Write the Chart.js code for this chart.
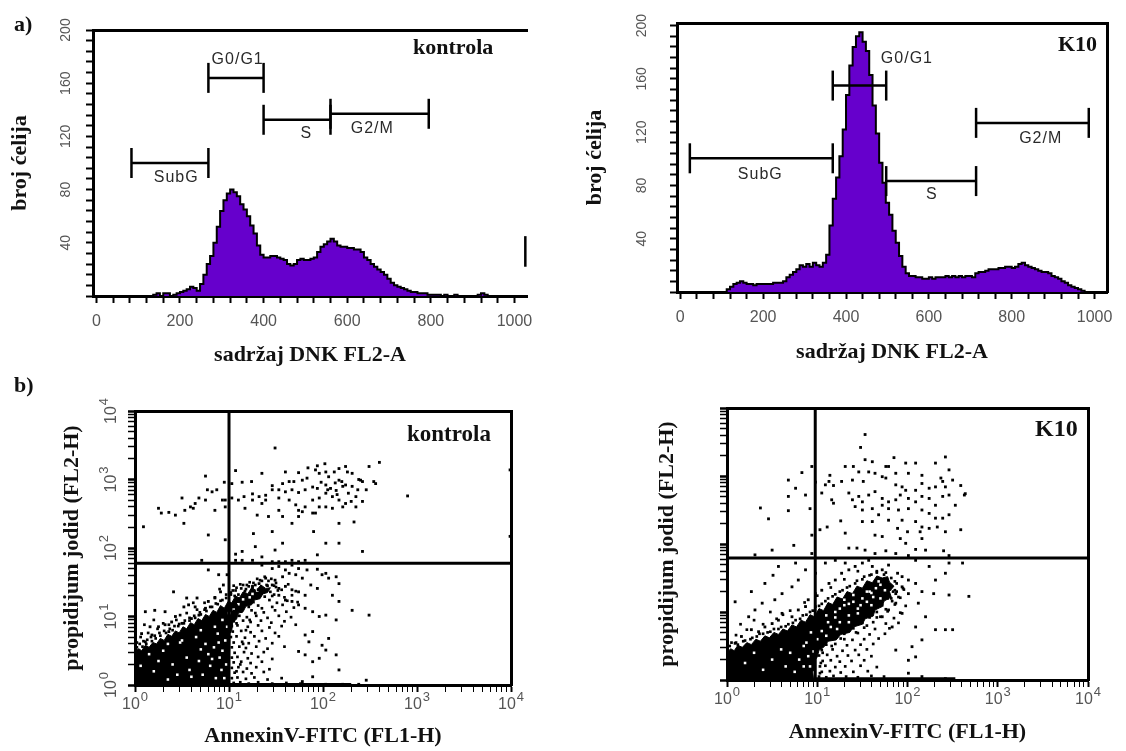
<!DOCTYPE html>
<html lang="sr">
<head>
<meta charset="utf-8">
<title>Ciklus ćelija i apoptoza – kontrola i K10</title>
<script src="https://cdn.jsdelivr.net/npm/chart.js@4.4.1/dist/chart.umd.min.js"></script>
<style>
  html, body { margin: 0; padding: 0; background: #fff; }
  #page { position: relative; width: 1126px; height: 751px; overflow: hidden; background: #fff; }
  #page canvas { position: absolute; }
  .lbl { position: absolute; font-family: 'Liberation Serif', 'Times New Roman', serif; font-weight: bold; color: #111; white-space: nowrap; line-height: 1; }
</style>
</head>
<body>
<div id="page">
  <canvas id="histKon" width="560" height="370" style="left:0;top:0"></canvas>
  <canvas id="histK10" width="566" height="370" style="left:560px;top:0"></canvas>
  <canvas id="dotKon" width="560" height="381" style="left:0;top:370px"></canvas>
  <canvas id="dotK10" width="566" height="381" style="left:560px;top:370px"></canvas>
  <div class="lbl" style="left:14px;top:13px;font-size:22px">a)</div>
  <div class="lbl" style="left:14px;top:374px;font-size:22px">b)</div>
  <div class="lbl" style="left:413px;top:36px;font-size:22px">kontrola</div>
  <div class="lbl" style="left:1058px;top:33px;font-size:22px">K10</div>
  <div class="lbl" style="left:407px;top:422px;font-size:23px">kontrola</div>
  <div class="lbl" style="left:1035px;top:416px;font-size:24px">K10</div>
</div>
<script>
// --- DNA histograms: counts per 8-channel bin of FL2-A (0..1023) ---
const histBinStart = [];
for (let c = 0; c < 1024; c += 8) histBinStart.push(c);

const konCounts = [
  0, 0, 0, 0, 0, 0, 0, 0, 0, 0, 0, 0, 0, 0, 0, 0,
  0, 1, 2, 0, 2, 2, 0, 1, 2, 3, 4, 5, 7, 6, 4, 9,
  16, 24, 30, 40, 52, 64, 72, 77, 80, 78, 75, 69, 65, 60, 53, 47,
  38, 31, 29, 29, 30, 30, 29, 28, 27, 24, 23, 24, 27, 28, 27, 27,
  28, 29, 33, 37, 39, 41, 43, 41, 38, 37, 37, 36, 36, 35, 35, 33,
  29, 27, 24, 22, 20, 18, 16, 13, 10, 8, 7, 6, 5, 4, 3, 3,
  2, 2, 2, 1, 1, 1, 1, 0, 1, 0, 0, 1, 0, 0, 0, 0,
  0, 0, 1, 2, 1, 0, 0, 0, 0, 0, 0, 0, 0, 0, 0, 0
];
// off-scale events piled on the last channel of the control (count span drawn as a line)
const konLastChannel = [1026, 22, 45];

const k10Counts = [
  0, 0, 0, 0, 0, 0, 0, 0, 0, 0, 0, 0, 0, 0, 2, 4,
  6, 7, 8, 7, 6, 6, 5, 6, 6, 6, 6, 6, 7, 7, 7, 8,
  11, 13, 15, 17, 20, 19, 21, 19, 22, 20, 19, 22, 28, 50, 70, 86,
  102, 122, 148, 170, 184, 192, 195, 188, 181, 163, 140, 119, 97, 82, 67, 58,
  46, 37, 27, 19, 14, 12, 12, 11, 11, 10, 10, 11, 10, 11, 11, 11,
  12, 11, 12, 11, 12, 11, 12, 12, 11, 14, 15, 15, 16, 17, 17, 17,
  18, 18, 19, 19, 18, 19, 21, 22, 20, 19, 18, 17, 16, 15, 15, 14,
  12, 11, 10, 8, 7, 5, 4, 3, 2, 1, 0, 0, 0, 0, 0, 0
];

const histXLabels = [0, 200, 400, 600, 800, 1000];
const histYLabels = [40, 80, 120, 160, 200];

// cell-cycle gates (channel ranges, drawn at a count level)
const gateNames = ['SubG', 'G0/G1', 'S', 'G2/M'];
const konGateFrom = [84, 268, 400, 560];
const konGateTo = [268, 400, 560, 795];
const konGateLevel = [100, 164, 132.5, 137];
const konGateTextX = [191, 338, 502, 660];
const konGateTextY = [89, 178, 122, 126];
const k10GateFrom = [23, 368, 497, 714];
const k10GateTo = [368, 497, 714, 986];
const k10GateLevel = [100.4, 155, 83.3, 127];
const k10GateTextX = [193, 547, 607, 870];
const k10GateTextY = [88, 175, 73, 115];

// --- Annexin V / PI dot plots, events as [log10 FL1-H, log10 FL2-H] ---
const decadeValues = [1, 10, 100, 1000, 10000];
const decadeExp = ['0', '1', '2', '3', '4'];

// densest part of each cloud (outline), holes inside it, and single events
const konCore = [[0,0],[0,0.48],[0.04,0.53],[0.07,0.50],[0.11,0.58],[0.15,0.55],[0.19,0.62],[0.23,0.60],[0.27,0.68],[0.31,0.65],[0.35,0.74],[0.39,0.71],[0.43,0.79],[0.47,0.76],[0.51,0.85],[0.55,0.82],[0.59,0.91],[0.63,0.88],[0.67,0.97],[0.71,0.94],[0.75,1.03],[0.79,1.00],[0.83,1.09],[0.87,1.06],[0.91,1.16],[0.95,1.12],[0.99,1.22],[1.03,1.20],[1.07,1.30],[1.11,1.27],[1.15,1.36],[1.20,1.33],[1.24,1.42],[1.29,1.38],[1.34,1.46],[1.39,1.41],[1.44,1.42],[1.41,1.35],[1.36,1.33],[1.33,1.26],[1.27,1.24],[1.24,1.17],[1.18,1.15],[1.15,1.07],[1.10,1.05],[1.08,0.96],[1.04,0.92],[1.03,0.80],[1.01,0.75],[1.00,0.50],[1.00,0],[0,0]];

const konHoles = [[0.72,0.15],[0.80,0.28],[0.86,0.10],[0.90,0.40],[0.78,0.45],[0.68,0.35],[0.60,0.12],[0.84,0.55],[0.92,0.22],[0.55,0.40],[0.40,0.30],[0.30,0.50],[0.20,0.20],[0.06,0.28],[0.48,0.62],[0.65,0.70],[0.88,0.75],[0.93,0.95],[0.75,0.60],[0.58,0.22],[0.82,0.38],[0.70,0.52],[0.89,0.62],[1.00,1.05],[1.10,1.18],[1.22,1.28],[0.95,0.10],[0.97,0.30],[0.93,0.50],[0.96,0.65],[0.85,0.85],[0.70,0.80],[0.50,0.65],[0.35,0.60],[0.15,0.45],[0.25,0.35],[0.45,0.15],[0.35,0.08],[1.05,1.10],[1.15,1.25],[1.25,1.33],[1.30,1.38],[0.98,0.85]];

const konUpper = [[1.49,3.46],[2.60,3.25],[2.02,3.23],[1.94,3.20],[1.84,3.17],[1.74,3.10],[1.60,3.11],[1.35,3.09],[1.07,3.13],[0.75,3.05],[0.95,2.96],[1.14,2.96],[1.24,2.97],[1.46,2.91],[1.57,2.94],[1.64,2.97],[1.69,2.97],[1.78,2.99],[1.83,3.02],[1.92,3.14],[1.96,3.09],[2.03,3.11],[2.06,3.04],[2.12,3.11],[2.17,3.16],[2.24,3.19],[2.26,3.11],[2.31,3.09],[2.38,3.00],[2.42,2.97],[2.49,3.19],[2.54,2.97],[2.17,2.99],[2.21,2.90],[2.24,2.92],[2.31,2.90],[2.37,2.85],[2.46,2.85],[2.03,2.92],[2.08,2.87],[2.14,2.84],[1.89,2.89],[1.94,2.87],[1.81,2.85],[1.74,2.81],[1.67,2.85],[1.60,2.82],[1.53,2.85],[1.46,2.85],[1.39,2.77],[1.32,2.75],[1.25,2.79],[1.16,2.75],[1.10,2.70],[1.03,2.73],[0.96,2.70],[0.87,2.85],[0.82,2.82],[0.77,2.85],[0.68,2.73],[0.64,2.65],[0.59,2.60],[0.53,2.55],[0.50,2.73],[0.43,2.48],[0.36,2.52],[0.28,2.51],[0.25,2.58],[0.09,2.31],[0.52,2.36],[0.78,2.19],[0.96,2.12],[1.07,1.91],[1.26,2.21],[1.28,2.02],[1.35,1.87],[1.14,1.95],[1.46,2.24],[1.57,2.07],[1.49,1.97],[1.67,2.36],[1.74,2.55],[1.81,2.60],[1.89,2.70],[1.96,2.73],[2.03,2.80],[2.10,2.75],[2.17,2.70],[2.24,2.65],[2.30,2.68],[2.35,2.75],[2.42,2.68],[2.35,2.60],[2.21,2.60],[2.10,2.58],[2.03,2.60],[1.96,2.60],[1.89,2.51],[1.78,2.53],[1.71,2.63],[1.64,2.70],[1.53,2.73],[1.39,2.70],[1.35,2.65],[1.25,2.70],[1.17,2.58],[1.42,2.46],[1.57,2.46],[1.74,2.46],[1.92,2.51],[2.17,2.36],[2.33,2.38],[1.90,2.24],[2.03,2.07],[2.17,2.07],[2.42,1.95],[1.94,1.90],[1.81,1.82],[1.74,1.80],[1.67,1.82],[1.60,1.80],[1.53,1.80],[1.46,1.80],[1.25,1.82],[1.14,1.82],[1.07,1.82],[0.71,1.82],[0.96,2.60],[0.93,2.70],[1.03,2.94],[1.53,2.55],[1.30,2.48],[2.90,2.76],[2.56,2.94],[2.40,2.99],[0.75,2.70],[0.85,2.55],[0.62,2.58],[3.99,3.14],[3.99,2.17],[2.13,2.95],[2.20,2.97],[2.05,2.85],[2.27,2.80],[2.15,2.78],[1.98,2.96]];

const konLower = [[0.11,0.63],[0.18,0.73],[0.25,0.85],[0.32,0.88],[0.39,0.92],[0.43,1.00],[0.52,1.14],[0.57,1.17],[0.64,1.14],[0.68,1.02],[0.75,1.12],[0.78,1.22],[0.85,1.27],[0.91,1.36],[0.94,1.46],[0.98,1.61],[0.78,1.68],[0.89,1.61],[0.41,1.36],[0.11,1.07],[0.21,1.09],[0.32,1.07],[0.55,1.27],[0.66,1.27],[0.50,0.90],[0.60,0.97],[0.36,0.78],[0.16,0.85],[0.07,0.75],[1.35,1.75],[1.46,1.70],[1.53,1.73],[1.60,1.68],[1.67,1.75],[1.74,1.70],[1.83,1.68],[1.94,1.69],[1.99,1.61],[2.06,1.56],[2.03,1.63],[2.14,1.58],[2.17,1.48],[1.57,1.58],[1.64,1.63],[1.71,1.61],[1.78,1.56],[1.49,1.53],[1.39,1.56],[1.32,1.48],[1.25,1.44],[1.46,1.46],[1.53,1.41],[1.60,1.44],[1.67,1.39],[1.74,1.36],[1.81,1.31],[1.53,1.31],[1.60,1.24],[1.67,1.22],[1.74,1.17],[1.81,1.12],[1.89,1.07],[1.96,1.00],[2.03,1.02],[2.14,0.95],[2.31,1.09],[2.49,1.02],[2.17,1.22],[2.10,1.31],[1.94,1.41],[1.87,1.46],[1.81,0.73],[1.89,0.78],[1.74,0.49],[1.81,0.44],[1.89,0.34],[1.96,0.39],[2.03,0.51],[2.14,0.44],[1.78,0.05],[1.89,0.12],[2.17,0.22],[2.46,0.07],[1.99,0.58],[2.06,0.68],[1.85,0.63],[2.03,0.01],[2.21,0.01],[2.38,0.01]];

const konMid = [[1.05,1.45],[1.12,1.47],[1.21,1.44],[1.41,1.45],[1.50,1.43],[1.63,1.47],[1.04,1.38],[1.17,1.37],[1.31,1.39],[1.44,1.36],[1.56,1.39],[1.71,1.37],[1.06,1.30],[1.15,1.31],[1.38,1.29],[1.48,1.32],[1.59,1.28],[1.67,1.31],[1.10,1.22],[1.19,1.23],[1.26,1.21],[1.43,1.24],[1.51,1.20],[1.62,1.23],[1.73,1.21],[1.03,1.15],[1.08,1.16],[1.21,1.14],[1.31,1.16],[1.46,1.14],[1.57,1.17],[1.69,1.13],[1.05,1.08],[1.13,1.07],[1.24,1.09],[1.37,1.06],[1.49,1.09],[1.61,1.07],[1.02,1.00],[1.11,1.01],[1.19,0.99],[1.29,1.01],[1.41,0.98],[1.53,1.01],[1.66,0.99],[1.05,0.93],[1.15,0.94],[1.23,0.92],[1.34,0.94],[1.45,0.91],[1.59,0.93],[1.03,0.86],[1.09,0.87],[1.20,0.85],[1.31,0.87],[1.43,0.84],[1.56,0.86],[1.71,0.88],[1.04,0.78],[1.13,0.79],[1.23,0.77],[1.35,0.79],[1.49,0.76],[1.02,0.70],[1.08,0.71],[1.17,0.69],[1.27,0.71],[1.39,0.68],[1.53,0.71],[1.05,0.62],[1.14,0.63],[1.21,0.61],[1.32,0.64],[1.46,0.61],[1.03,0.55],[1.11,0.56],[1.18,0.54],[1.29,0.56],[1.41,0.53],[1.59,0.56],[1.06,0.47],[1.16,0.48],[1.24,0.46],[1.37,0.48],[1.03,0.40],[1.09,0.41],[1.20,0.39],[1.31,0.41],[1.46,0.38],[1.05,0.33],[1.13,0.34],[1.23,0.32],[1.35,0.34],[1.03,0.25],[1.10,0.26],[1.19,0.24],[1.29,0.26],[1.43,0.23],[1.06,0.18],[1.15,0.19],[1.24,0.17],[1.37,0.19],[1.03,0.10],[1.09,0.11],[1.18,0.09],[1.27,0.11],[1.41,0.08],[1.56,0.10],[1.05,0.03],[1.12,0.04],[1.21,0.02],[1.31,0.04],[1.46,0.02],[1.61,0.03],[1.76,0.02],[0.03,0.50],[0.08,0.56],[0.02,0.62],[0.12,0.60],[0.18,0.64],[0.06,0.70],[0.22,0.68],[0.27,0.72],[0.14,0.76],[0.33,0.76],[0.40,0.80],[0.24,0.82],[0.46,0.86],[0.36,0.88],[0.52,0.90],[0.58,0.94],[0.44,0.95],[0.64,0.98],[0.70,1.03],[0.55,1.05],[0.76,1.08],[0.66,1.10],[0.82,1.14],[0.88,1.18],[0.74,1.20],[0.93,1.24],[0.85,1.28],[0.97,1.32],[0.90,1.40],[0.62,1.20],[0.48,1.02],[0.30,0.90],[0.20,0.95],[0.10,0.88],[1.02,1.35],[1.08,1.42],[1.15,1.46],[1.22,1.50],[1.28,1.46],[1.35,1.52],[1.40,1.46],[1.45,1.55],[1.50,1.49],[1.38,1.58],[1.30,1.55],[1.18,1.40],[1.10,1.32],[1.25,1.42],[0.02,0.55],[0.05,0.60],[0.09,0.64],[0.13,0.66],[0.17,0.70],[0.21,0.72],[0.26,0.76],[0.31,0.79],[0.37,0.82],[0.42,0.86],[0.47,0.89],[0.53,0.94],[0.58,0.98],[0.63,1.01],[0.69,1.06],[0.74,1.10],[0.80,1.14],[0.86,1.19],[0.91,1.23],[0.97,1.27],[1.02,1.32],[1.07,1.38],[1.13,1.41],[1.19,1.46],[1.26,1.49],[1.33,1.53],[1.42,1.52],[1.48,1.45],[1.52,1.38],[1.46,1.30],[1.08,0.20],[1.12,0.30],[1.15,0.60],[1.18,0.80],[1.08,0.90],[1.22,0.95],[1.28,1.05],[1.35,1.12]];

const k10Core = [[0,0],[0,0.40],[0.04,0.46],[0.08,0.43],[0.12,0.51],[0.17,0.48],[0.22,0.55],[0.27,0.52],[0.32,0.60],[0.37,0.57],[0.42,0.65],[0.47,0.62],[0.52,0.70],[0.57,0.67],[0.62,0.75],[0.67,0.72],[0.72,0.81],[0.77,0.78],[0.82,0.88],[0.87,0.85],[0.92,0.96],[0.97,0.93],[1.02,1.05],[1.07,1.02],[1.12,1.14],[1.17,1.11],[1.22,1.22],[1.28,1.19],[1.33,1.30],[1.39,1.27],[1.44,1.38],[1.50,1.35],[1.55,1.46],[1.61,1.43],[1.66,1.53],[1.72,1.50],[1.78,1.52],[1.80,1.44],[1.85,1.38],[1.80,1.30],[1.82,1.22],[1.74,1.16],[1.72,1.08],[1.64,1.03],[1.62,0.94],[1.53,0.90],[1.50,0.82],[1.40,0.78],[1.36,0.70],[1.26,0.67],[1.21,0.59],[1.12,0.57],[1.07,0.48],[1.02,0.44],[1.00,0.34],[0.97,0.28],[0.98,0.18],[0.95,0.12],[0.96,0],[0,0]];

const k10Holes = [[1.10,0.95],[1.20,1.00],[1.30,1.10],[1.40,1.15],[1.50,1.20],[1.58,1.30],[1.65,1.35],[1.45,1.05],[1.35,0.95],[1.25,0.85],[1.15,0.78],[1.05,0.72],[1.55,1.15],[1.70,1.40],[1.62,1.22],[0.85,0.20],[0.90,0.35],[0.80,0.30],[0.75,0.12],[0.88,0.55],[0.70,0.40],[0.65,0.20],[0.93,0.70],[1.00,0.60],[1.20,0.92],[1.40,1.25],[1.30,1.18],[1.12,0.85],[1.48,1.10],[1.60,1.28],[1.25,1.05],[1.35,1.12],[1.55,1.30],[1.68,1.45],[1.75,1.32],[1.45,0.98],[1.60,1.10],[1.70,1.20],[1.22,0.75],[1.10,0.65],[1.35,0.85],[0.92,0.20],[0.96,0.42],[0.85,0.50],[0.60,0.45],[0.50,0.30],[0.40,0.15],[0.30,0.40],[0.20,0.25]];

const k10Upper = [[1.53,3.61],[1.48,3.42],[1.85,3.27],[1.53,3.24],[1.61,3.21],[2.09,3.19],[2.31,3.19],[2.42,3.28],[1.98,3.19],[1.76,3.14],[1.79,3.14],[1.40,3.14],[1.31,3.14],[1.46,3.06],[1.57,3.06],[1.64,3.04],[1.72,2.99],[1.87,3.04],[2.01,3.04],[2.16,3.01],[2.46,3.09],[2.37,2.97],[2.39,2.92],[2.50,2.94],[2.59,2.86],[2.64,2.74],[1.14,3.01],[1.09,2.87],[1.13,2.92],[1.18,2.86],[1.27,2.92],[1.39,2.94],[1.51,2.92],[1.76,2.97],[1.87,2.87],[1.94,2.84],[1.98,2.79],[2.09,2.79],[2.16,2.89],[2.24,2.82],[2.31,2.84],[2.42,2.84],[1.05,2.75],[1.16,2.65],[1.18,2.60],[1.35,2.75],[1.39,2.65],[1.46,2.70],[1.50,2.62],[1.57,2.72],[1.64,2.77],[1.72,2.67],[1.79,2.62],[1.87,2.65],[1.92,2.72],[2.01,2.67],[2.09,2.62],[2.16,2.70],[2.24,2.67],[2.31,2.57],[2.39,2.70],[2.46,2.72],[2.53,2.57],[2.63,2.72],[1.42,2.55],[1.50,2.50],[1.61,2.52],[1.72,2.57],[1.79,2.52],[1.90,2.50],[2.01,2.52],[2.16,2.50],[2.24,2.45],[2.31,2.38],[2.39,2.38],[2.46,2.43],[1.68,2.43],[1.79,2.35],[1.61,2.33],[1.94,2.35],[2.09,2.33],[1.26,2.34],[1.50,2.33],[2.16,2.25],[2.24,2.23],[2.33,2.25],[2.42,2.18],[2.59,2.21],[1.89,2.23],[2.00,2.18],[2.14,2.18],[1.64,2.13],[1.72,2.11],[1.31,2.16],[1.92,2.08],[1.98,2.01],[2.16,2.08],[1.03,2.21],[1.11,2.25],[1.35,1.94],[1.44,1.94],[1.53,1.91],[1.76,1.90],[1.87,1.86],[2.09,1.92],[2.20,1.91],[2.40,1.90],[2.46,1.83],[2.01,1.83],[1.64,1.86],[0.94,3.14],[0.83,3.05],[0.68,2.94],[0.76,2.82],[0.87,2.72],[0.68,2.70],[0.37,2.53],[0.68,2.49],[0.46,2.37],[0.92,2.52],[0.94,2.13],[0.74,1.98],[0.50,1.91],[0.31,1.84],[0.94,1.86],[0.98,2.91]];

const k10Lower = [[0.09,0.54],[0.16,0.64],[0.27,0.74],[0.35,0.71],[0.42,0.78],[0.50,0.83],[0.57,0.88],[0.61,0.98],[0.72,0.93],[0.79,1.03],[0.87,1.08],[0.90,1.18],[0.98,1.27],[1.05,1.32],[1.13,1.42],[1.20,1.47],[1.27,1.57],[1.35,1.62],[1.42,1.67],[1.50,1.72],[1.61,1.67],[1.72,1.62],[1.79,1.69],[1.89,1.57],[1.94,1.52],[2.01,1.47],[2.09,1.42],[1.94,1.37],[1.87,1.27],[2.01,1.27],[2.16,1.30],[2.29,1.27],[2.68,1.23],[2.46,1.25],[2.12,1.13],[1.87,1.13],[1.79,1.03],[1.94,0.98],[1.72,0.93],[1.83,0.78],[2.01,0.10],[2.16,0.05],[2.42,0.02],[2.01,0.29],[2.09,0.34],[1.87,0.44],[2.05,0.49],[2.16,0.59],[2.31,0.74],[2.42,0.74],[2.50,0.74],[2.09,0.78],[2.20,0.93],[0.24,0.93],[0.31,1.03],[0.39,1.13],[0.53,1.18],[0.61,1.27],[0.72,1.37],[0.79,1.47],[0.87,1.62],[0.76,1.72],[0.57,1.67],[0.51,1.54],[0.42,1.42],[0.27,1.30],[0.09,1.15],[0.98,1.57],[1.09,1.72],[1.20,1.76],[1.31,1.72],[1.57,1.76],[2.09,1.76],[2.24,1.67],[2.46,1.72],[2.61,1.72],[2.42,1.57],[2.31,1.47]];

const k10Mid = [[1.02,0.05],[1.10,0.04],[1.18,0.06],[1.32,0.05],[1.45,0.04],[1.60,0.06],[1.74,0.05],[1.05,0.12],[1.14,0.13],[1.26,0.11],[1.40,0.12],[1.56,0.13],[1.03,0.20],[1.09,0.21],[1.20,0.19],[1.31,0.20],[1.48,0.21],[1.66,0.19],[1.06,0.28],[1.15,0.29],[1.25,0.27],[1.38,0.28],[1.52,0.29],[1.02,0.36],[1.11,0.37],[1.22,0.35],[1.34,0.36],[1.46,0.37],[1.60,0.35],[1.05,0.44],[1.17,0.45],[1.28,0.43],[1.42,0.44],[1.55,0.45],[1.10,0.52],[1.20,0.53],[1.33,0.51],[1.48,0.52],[1.62,0.53],[1.14,0.60],[1.26,0.61],[1.39,0.59],[1.52,0.60],[1.68,0.61],[1.30,0.68],[1.45,0.69],[1.58,0.67],[1.75,0.68],[1.40,0.76],[1.52,0.77],[1.64,0.75],[1.80,0.76],[1.50,0.84],[1.62,0.85],[1.76,0.83],[1.90,0.84],[1.58,0.92],[1.70,0.93],[1.85,0.91],[1.66,1.00],[1.78,1.01],[1.92,0.99],[1.72,1.10],[1.86,1.11],[1.98,1.09],[1.82,1.20],[1.92,1.21],[1.86,1.32],[1.96,1.33],[0.05,0.55],[0.12,0.52],[0.20,0.58],[0.28,0.62],[0.10,0.66],[0.36,0.68],[0.45,0.70],[0.22,0.74],[0.52,0.75],[0.60,0.78],[0.40,0.82],[0.68,0.82],[0.76,0.88],[0.55,0.90],[0.84,0.95],[0.92,1.00],[0.70,1.02],[0.98,1.08],[1.05,1.12],[0.86,1.14],[1.12,1.20],[1.20,1.26],[1.00,1.24],[1.28,1.32],[1.36,1.38],[1.15,1.36],[1.44,1.46],[1.52,1.52],[1.30,1.48],[1.60,1.55],[1.66,1.58],[1.45,1.60],[0.30,0.88],[0.15,0.82],[0.62,0.96],[0.48,1.00],[1.74,1.55],[1.82,1.50],[1.88,1.42],[1.84,1.30],[1.90,1.22],[1.78,1.20],[1.95,1.35],[1.70,1.30],[0.03,0.50],[0.10,0.55],[0.18,0.57],[0.26,0.60],[0.33,0.64],[0.40,0.68],[0.48,0.71],[0.57,0.75],[0.65,0.79],[0.73,0.84],[0.81,0.90],[0.88,0.96],[0.95,1.02],[1.02,1.09],[1.09,1.16],[1.17,1.23],[1.25,1.30],[1.33,1.36],[1.42,1.42],[1.50,1.48],[1.58,1.54],[1.66,1.60],[1.76,1.58],[1.86,1.45],[1.88,1.30],[1.83,1.16],[1.76,1.04],[1.66,0.92],[1.55,0.80],[1.43,0.70],[1.30,0.60],[1.16,0.50],[1.06,0.40],[1.04,0.25],[1.03,0.10]];

const konQuad = [10, 60];     // FL1 / FL2 quadrant thresholds
const k10Quad = [9.5, 62];
const konFloor = [1.0, 2.3];  // log10 FL1 range of events piled on the FL2 floor
const k10Floor = [0.98, 2.53];

// --- helpers ---
const SANS = "'Liberation Sans', Arial, sans-serif";
const SERIF = "'Liberation Serif', 'Times New Roman', serif";
const GREY = '#555';
Chart.defaults.font.family = SANS;

const histXTicks = [];
for (let v = 0; v <= 1000; v += 40) histXTicks.push(v);
const histYTicks = [];
for (let v = 0; v <= 200; v += 8) histYTicks.push(v);
const logTicks = [];
for (let k = 0; k < 4; k++) for (let m = 1; m < 10; m++) logTicks.push(m * Math.pow(10, k));
logTicks.push(10000);

const pts = arr => arr.map(([a, b]) => ({ x: Math.pow(10, a), y: Math.pow(10, b) }));

function histPoints(counts) {
  const p = counts.map((c, i) => ({ x: histBinStart[i], y: c }));
  p.push({ x: 1024, y: 0 });
  return p;
}

function rotatedTicks(values, texts, x, font) {
  return {
    id: 'rotTicks',
    afterDraw(chart) {
      const ctx = chart.ctx, sc = chart.scales.y;
      ctx.save();
      ctx.fillStyle = GREY;
      ctx.font = font;
      ctx.textAlign = 'center';
      ctx.textBaseline = 'middle';
      values.forEach((v, i) => {
        ctx.save();
        ctx.translate(x, sc.getPixelForValue(v));
        ctx.rotate(-Math.PI / 2);
        ctx.fillText(texts[i], 0, 0);
        ctx.restore();
      });
      ctx.restore();
    }
  };
}

// "10" with a raised exponent, under the x axis and (optionally) rotated beside the y axis
function powerLabels(xDy, yX) {
  return {
    id: 'powerLabels',
    afterDraw(chart) {
      const ctx = chart.ctx;
      const one = (exp, cx, cy, rot) => {
        ctx.save();
        ctx.translate(cx, cy);
        if (rot) ctx.rotate(-Math.PI / 2);
        ctx.font = '16px ' + SANS;
        const wb = ctx.measureText('10').width;
        ctx.font = '13px ' + SANS;
        const we = ctx.measureText(exp).width;
        const x0 = -(wb + we + 1) / 2;
        ctx.fillStyle = GREY;
        ctx.textAlign = 'left';
        ctx.textBaseline = 'alphabetic';
        ctx.font = '16px ' + SANS;
        ctx.fillText('10', x0, 6);
        ctx.font = '13px ' + SANS;
        ctx.fillText(exp, x0 + wb + 1, -2);
        ctx.restore();
      };
      decadeValues.forEach((v, k) => one(decadeExp[k], chart.scales.x.getPixelForValue(v), chart.chartArea.bottom + xDy, false));
      if (yX != null) decadeValues.forEach((v, k) => one(decadeExp[k], yX, chart.scales.y.getPixelForValue(v), true));
    }
  };
}

function gateText(tx, ty) {
  return {
    id: 'gateText',
    afterDatasetsDraw(chart) {
      const ctx = chart.ctx, sx = chart.scales.x, sy = chart.scales.y;
      ctx.save();
      ctx.fillStyle = '#2a2a2a';
      ctx.font = '16px ' + SANS;
      if ('letterSpacing' in ctx) ctx.letterSpacing = '1px';
      ctx.textAlign = 'center';
      ctx.textBaseline = 'middle';
      gateNames.forEach((n, i) => ctx.fillText(n, sx.getPixelForValue(tx[i]), sy.getPixelForValue(ty[i])));
      ctx.restore();
    }
  };
}

function gateSets(from, to, level) {
  return gateNames.map((n, i) => ({
    type: 'line', label: n, order: 0,
    data: [{ x: from[i], y: level[i] }, { x: to[i], y: level[i] }],
    borderColor: '#000', borderWidth: 2.5, fill: false,
    pointStyle: 'line', pointRotation: 90, pointRadius: 15,
    pointBorderWidth: 2.5, pointBorderColor: '#000', pointBackgroundColor: '#000'
  }));
}

const frameTop = { type: 'linear', position: 'top', min: 0, max: 1, z: 1,
  grid: { display: false, drawTicks: false }, ticks: { display: false },
  border: { display: true, width: 3, color: '#000' }, afterFit: s => { s.height = 0; } };
const frameRight = { type: 'linear', position: 'right', min: 0, max: 1, z: 1,
  grid: { display: false, drawTicks: false }, ticks: { display: false },
  border: { display: true, width: 3, color: '#000' }, afterFit: s => { s.width = 0; } };

function histChart(id, counts, yMax, gates, box, withRight, lastChannel) {
  const scales = {
    x: { type: 'linear', min: -8, max: 1030, z: 1,
      afterBuildTicks: s => { s.ticks = histXTicks.map(v => ({ value: v })); },
      ticks: { autoSkip: false, maxRotation: 0, color: GREY, font: { size: 16 }, padding: 9,
        callback: v => histXLabels.includes(v) ? String(v) : '' },
      grid: { drawOnChartArea: false, tickLength: 7, tickColor: '#000', tickWidth: 2 },
      border: { width: 3, color: '#000' },
      title: { display: true, text: 'sadržaj DNK FL2-A', color: '#111',
        font: { family: SERIF, size: 22, weight: 'bold' }, padding: { top: 2, bottom: box.xTitlePad } },
      afterFit: s => { s.height = box.xH; } },
    y: { type: 'linear', min: 0, max: yMax, z: 1,
      afterBuildTicks: s => { s.ticks = histYTicks.map(v => ({ value: v })); },
      ticks: { display: false },
      grid: { drawOnChartArea: false, tickLength: 7, tickColor: '#000', tickWidth: 2 },
      border: { width: 3, color: '#000' },
      title: { display: true, text: 'broj ćelija', color: '#111',
        font: { family: SERIF, size: 22, weight: 'bold' }, padding: { top: 4, bottom: 4 } },
      afterFit: s => { s.width = box.yW; } },
    xt: frameTop
  };
  if (withRight) scales.yr = frameRight;
  const datasets = [
    { data: histPoints(counts), stepped: 'before', fill: 'origin', order: 5,
      backgroundColor: '#6600cc', borderColor: '#000', borderWidth: 2, pointRadius: 0 },
    ...gateSets(gates.from, gates.to, gates.level)
  ];
  if (lastChannel) datasets.push({ type: 'line', order: 1, fill: false, pointRadius: 0,
    data: [{ x: lastChannel[0], y: lastChannel[1] }, { x: lastChannel[0], y: lastChannel[2] }],
    borderColor: '#000', borderWidth: 2.5 });
  return new Chart(document.getElementById(id), {
    type: 'line',
    data: { datasets },
    options: {
      responsive: false, animation: false, events: [], devicePixelRatio: 1,
      layout: { padding: box.pad },
      plugins: { legend: { display: false }, tooltip: { enabled: false } },
      scales
    },
    plugins: [rotatedTicks(histYLabels, histYLabels.map(String), box.yLabX, '14px ' + SANS),
              gateText(gates.tx, gates.ty)]
  });
}

function dotChart(id, d, box) {
  const isDecade = c => c.tick && decadeValues.includes(c.tick.value);
  const dots = (arr, color, r, order) => ({ data: pts(arr), order, pointStyle: 'rect', pointRadius: r,
    backgroundColor: color, borderWidth: 0 });
  return new Chart(document.getElementById(id), {
    type: 'scatter',
    data: { datasets: [
      { type: 'line', data: pts(d.core), fill: 'shape', order: 5, tension: 0,
        backgroundColor: '#000', borderColor: '#000', borderWidth: 1, pointRadius: 0 },
      dots(d.holes, '#fff', 1.8, 4),
      dots(d.upper.concat(d.lower), '#000', 2, 3),
      dots(d.mid, '#000', 1.9, 2),
      { type: 'line', data: [{ x: Math.pow(10, d.floor[0]), y: 1.03 }, { x: Math.pow(10, d.floor[1]), y: 1.03 }],
        order: 1, borderColor: '#000', borderWidth: d.floorW, pointRadius: 0, fill: false },
      { type: 'line', data: [{ x: d.quad[0], y: 1 }, { x: d.quad[0], y: 10000 }], order: 0,
        borderColor: '#000', borderWidth: 3, pointRadius: 0, fill: false },
      { type: 'line', data: [{ x: 1, y: d.quad[1] }, { x: 10000, y: d.quad[1] }], order: 0,
        borderColor: '#000', borderWidth: 3, pointRadius: 0, fill: false }
    ] },
    options: {
      responsive: false, animation: false, events: [], devicePixelRatio: 1,
      layout: { padding: box.pad },
      plugins: { legend: { display: false }, tooltip: { enabled: false } },
      scales: {
        x: { type: 'logarithmic', min: 1, max: 10000, z: 1,
          afterBuildTicks: s => { s.ticks = logTicks.map(v => ({ value: v })); },
          ticks: { display: false },
          grid: { drawOnChartArea: false, tickLength: 7, tickColor: '#000', tickWidth: c => isDecade(c) ? 2 : 1 },
          border: { width: 3, color: '#000' },
          title: { display: true, text: 'AnnexinV-FITC (FL1-H)', color: '#111',
            font: { family: SERIF, size: 22, weight: 'bold' }, padding: { top: 2, bottom: box.xTitlePad } },
          afterFit: s => { s.height = box.xH; } },
        y: { type: 'logarithmic', min: 1, max: 10000, z: 1,
          afterBuildTicks: s => { s.ticks = logTicks.map(v => ({ value: v })); },
          ticks: { display: false },
          grid: { drawOnChartArea: false, tickLength: 7, tickColor: '#000', tickWidth: c => isDecade(c) ? 2.5 : 1.5 },
          border: { width: 3, color: '#000' },
          title: { display: true, text: 'propidijum jodid (FL2-H)', color: '#111',
            font: { family: SERIF, size: 22, weight: 'bold' }, padding: { top: 4, bottom: 4 } },
          afterFit: s => { s.width = box.yW; } },
        xt: frameTop,
        yr: frameRight
      }
    },
    plugins: [powerLabels(18, box.yLabX)]
  });
}

histChart('histKon', konCounts, 200,
  { from: konGateFrom, to: konGateTo, level: konGateLevel, tx: konGateTextX, ty: konGateTextY },
  { pad: { left: 3, top: 30, right: 33, bottom: 0 }, yW: 90, xH: 74, xTitlePad: 1, yLabX: 66 }, false, konLastChannel);

histChart('histK10', k10Counts, 202,
  { from: k10GateFrom, to: k10GateTo, level: k10GateLevel, tx: k10GateTextX, ty: k10GateTextY },
  { pad: { left: 18, top: 23, right: 19, bottom: 0 }, yW: 99, xH: 78, xTitlePad: 4, yLabX: 82 }, true, null);

dotChart('dotKon',
  { core: konCore, holes: konHoles, upper: konUpper, lower: konLower, mid: konMid, quad: konQuad, floor: konFloor, floorW: 2 },
  { pad: { left: 55, top: 41, right: 49, bottom: 0 }, yW: 80, xH: 66, xTitlePad: 1, yLabX: 110 });

dotChart('dotK10',
  { core: k10Core, holes: k10Holes, upper: k10Upper, lower: k10Lower, mid: k10Mid, quad: k10Quad, floor: k10Floor, floorW: 4 },
  { pad: { left: 90, top: 38, right: 38, bottom: 0 }, yW: 77, xH: 71, xTitlePad: 5, yLabX: null });
</script>
</body>
</html>
